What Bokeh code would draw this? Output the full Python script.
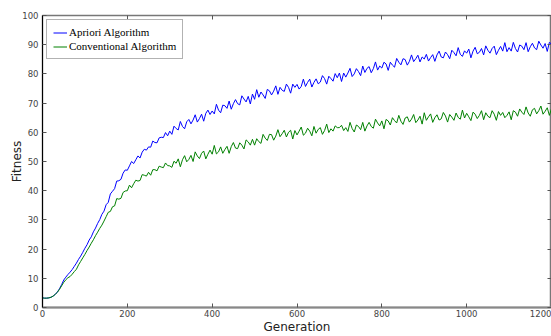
from bokeh.plotting import figure
from bokeh.models import LinearAxis, Range1d, FixedTicker, Legend, LegendItem, CustomJSTickFormatter
from bokeh.embed import file_html
from bokeh.resources import INLINE

generation = list(range(0, 1201, 5))

apriori = [
    3.3, 3.2, 3.2, 3.3, 3.5, 3.9, 4.5, 5.3, 6.4, 7.8,
    9.4, 10.4, 11.3, 12.1, 13.0, 14.1, 15.2, 16.5, 17.6, 18.9,
    20.3, 21.5, 23.1, 24.2, 25.9, 27.2, 28.8, 30.1, 31.9, 33.0,
    35.2, 36.0, 38.9, 39.8, 40.7, 43.3, 43.4, 43.9, 46.0, 47.1,
    47.0, 48.5, 50.0, 49.3, 50.6, 51.9, 51.2, 53.2, 54.2, 53.9,
    55.0, 54.9, 57.0, 56.5, 56.4, 58.1, 58.3, 58.2, 59.9, 58.8,
    60.4, 59.3, 62.1, 61.3, 60.8, 63.7, 62.0, 61.2, 63.6, 64.4,
    62.9, 64.2, 66.0, 63.5, 64.7, 66.2, 63.8, 66.5, 67.6, 66.1,
    67.3, 66.3, 69.6, 67.6, 66.7, 69.3, 69.1, 68.2, 70.7, 67.9,
    69.8, 71.2, 69.8, 69.4, 72.5, 71.4, 70.4, 72.3, 69.7, 73.1,
    71.3, 74.6, 72.0, 73.8, 72.8, 71.6, 74.7, 74.2, 72.8, 74.1,
    75.9, 73.0, 75.4, 74.4, 74.0, 76.5, 75.4, 73.4, 76.5, 75.4,
    76.4, 74.8, 75.7, 78.2, 75.7, 77.1, 78.2, 75.5, 77.1, 78.3,
    76.6, 77.2, 79.4, 78.4, 76.5, 79.2, 78.4, 77.5, 80.1, 78.7,
    80.3, 77.4, 80.3, 78.9, 80.3, 81.9, 79.1, 80.0, 81.8, 80.8,
    79.4, 82.7, 80.5, 81.9, 82.5, 80.4, 81.8, 84.1, 81.3, 82.7,
    82.0, 84.0, 83.4, 81.2, 84.0, 83.0, 82.3, 85.3, 84.0, 83.1,
    85.2, 84.9, 83.0, 84.3, 86.5, 84.2, 85.2, 86.4, 84.1, 85.8,
    85.1, 86.7, 84.4, 85.6, 86.6, 84.3, 86.5, 87.8, 85.8, 85.5,
    87.5, 86.6, 85.2, 88.1, 87.3, 86.2, 89.0, 86.7, 86.0, 87.9,
    87.1, 88.5, 85.5, 87.8, 89.1, 86.9, 87.4, 88.7, 86.5, 89.6,
    88.1, 87.1, 88.7, 89.5, 86.6, 88.1, 89.4, 87.8, 90.7, 87.6,
    89.0, 87.8, 90.8, 88.7, 87.5, 89.9, 89.5, 88.3, 90.7, 87.6,
    89.3, 90.5, 88.9, 88.3, 91.2, 89.9, 88.8, 90.4, 87.7, 90.8,
    90.2,
]

conventional = [
    3.3, 3.2, 3.2, 3.3, 3.5, 3.9, 4.5, 5.2, 6.2, 7.4,
    8.6, 9.5, 10.2, 10.6, 11.4, 12.3, 13.1, 14.6, 15.8, 17.0,
    18.2, 19.5, 20.7, 22.0, 23.2, 24.6, 25.8, 27.1, 28.2, 29.6,
    31.1, 32.6, 32.9, 34.5, 34.8, 37.3, 37.1, 37.4, 39.4, 39.9,
    40.0, 41.9, 41.0, 42.4, 43.6, 43.3, 43.5, 45.5, 45.3, 45.0,
    46.3, 45.3, 47.2, 47.2, 46.8, 48.4, 48.1, 47.9, 49.5, 48.6,
    48.5, 48.0, 50.1, 49.4, 50.9, 48.2, 50.6, 52.0, 49.9, 50.7,
    52.1, 50.0, 53.3, 51.9, 51.0, 52.8, 53.6, 50.9, 52.5, 53.9,
    52.5, 55.5, 52.6, 53.3, 55.0, 52.8, 54.1, 55.2, 52.8, 55.1,
    56.5, 54.6, 54.4, 56.4, 55.6, 54.3, 57.4, 56.7, 55.6, 57.6,
    55.6, 57.8, 56.8, 56.2, 59.3, 58.0, 57.2, 59.3, 59.2, 57.3,
    58.7, 60.9, 58.5, 59.5, 60.7, 58.4, 60.0, 60.7, 57.7, 60.6,
    59.1, 60.4, 61.8, 59.0, 59.7, 61.4, 60.4, 58.8, 62.0, 59.7,
    61.0, 61.6, 59.3, 60.6, 62.8, 59.9, 61.2, 60.4, 62.2, 61.6,
    61.6, 62.4, 60.6, 61.6, 60.3, 63.4, 61.3, 60.1, 62.5, 62.0,
    60.9, 63.4, 60.4, 62.2, 63.4, 62.0, 61.4, 64.5, 63.2, 62.2,
    63.9, 61.2, 64.4, 63.9, 62.5, 65.0, 64.0, 63.2, 65.8, 63.8,
    62.7, 64.9, 65.3, 63.5, 64.5, 66.1, 63.3, 64.2, 65.5, 62.8,
    66.7, 64.1, 65.3, 66.3, 63.4, 65.0, 66.0, 64.2, 64.6, 66.8,
    65.6, 63.5, 66.1, 65.2, 64.1, 66.6, 65.1, 64.5, 67.6, 64.9,
    66.5, 65.3, 64.0, 66.9, 66.2, 64.7, 65.8, 67.4, 64.3, 66.7,
    65.5, 65.0, 67.4, 66.2, 64.1, 67.1, 65.8, 66.8, 65.0, 65.8,
    67.0, 64.3, 67.4, 66.9, 65.5, 68.0, 66.9, 66.1, 68.7, 66.6,
    65.5, 67.7, 68.2, 66.3, 67.4, 69.0, 66.2, 67.2, 68.4, 65.8,
    68.1,
]

x_ticks = [0, 200, 400, 600, 800, 1000, 1200]
y_ticks = [0, 10, 20, 30, 40, 50, 60, 70, 80, 90, 100]

p = figure(width=551, height=336, output_backend="svg", toolbar_location=None,
           x_range=Range1d(0, 1200), y_range=Range1d(0, 100),
           min_border_left=42, min_border_top=15, min_border_right=0, min_border_bottom=0)

p.background_fill_color = "white"
p.border_fill_color = "white"
p.grid.visible = False
p.outline_line_color = "#777777"
p.outline_line_width = 1.5

for ax in (p.xaxis[0], p.yaxis[0]):
    ax.major_tick_in = 4
    ax.major_tick_out = 0
    ax.minor_tick_in = 0
    ax.minor_tick_out = 0
    ax.major_label_text_font = "DejaVu Sans"
    ax.major_label_text_font_size = "8.5px"
    ax.major_label_text_color = "#444444"
    ax.axis_label_text_font = "DejaVu Sans"
    ax.axis_label_text_font_size = "12px"
    ax.axis_label_text_font_style = "normal"
    ax.axis_label_text_color = "#222222"
    ax.major_tick_line_color = "#555555"

p.xaxis[0].ticker = FixedTicker(ticks=x_ticks)
p.yaxis[0].ticker = FixedTicker(ticks=y_ticks)
p.xaxis[0].axis_label = "Generation"
p.yaxis[0].axis_label = "Fitness"
p.xaxis[0].major_label_standoff = 2
p.yaxis[0].major_label_standoff = 4
p.xaxis[0].axis_label_standoff = 0
p.yaxis[0].axis_label_standoff = -5
p.xaxis[0].axis_line_color = "#888888"
p.xaxis[0].axis_line_width = 2
p.yaxis[0].axis_line_color = "black"
p.yaxis[0].axis_line_width = 1

blank = CustomJSTickFormatter(code="return ''")
top_axis = LinearAxis(ticker=FixedTicker(ticks=x_ticks), formatter=blank,
                      major_tick_in=4, major_tick_out=0, minor_tick_in=0, minor_tick_out=0,
                      major_label_text_color=None, major_label_standoff=0,
                      axis_line_color=None, major_tick_line_color="#555555")
right_axis = LinearAxis(ticker=FixedTicker(ticks=y_ticks), formatter=blank,
                        major_tick_in=4, major_tick_out=0, minor_tick_in=0, minor_tick_out=0,
                        major_label_text_color=None, major_label_standoff=0,
                        axis_line_color=None, major_tick_line_color="#555555")
p.add_layout(top_axis, "above")
p.add_layout(right_axis, "right")

r1 = p.line(generation, apriori, line_color="#0000ff", line_width=1)
r2 = p.line(generation, conventional, line_color="#008000", line_width=1)

legend = Legend(items=[LegendItem(label="Apriori Algorithm", renderers=[r1]),
                       LegendItem(label="Conventional Algorithm", renderers=[r2])],
                location="top_left")
legend.label_text_font = "Liberation Serif"
legend.label_text_font_size = "11px"
legend.label_text_color = "black"
legend.label_height = 11
legend.glyph_height = 11
legend.glyph_width = 14
legend.label_standoff = 2
legend.spacing = 2
legend.padding = 6
legend.margin = 4
legend.border_line_color = "#666666"
legend.border_line_width = 1.5
legend.background_fill_alpha = 1
p.add_layout(legend)

open("out.html", "w").write(file_html(p, INLINE))
